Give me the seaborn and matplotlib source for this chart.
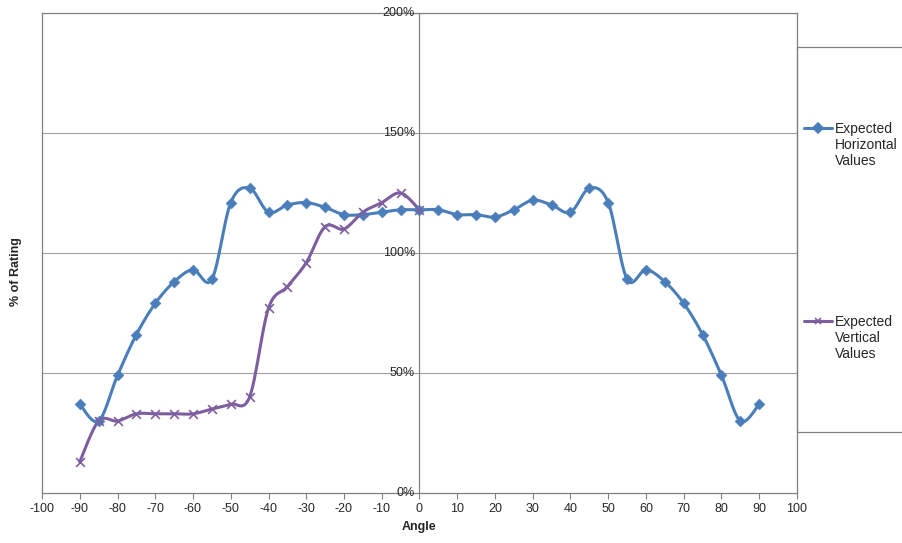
import numpy as np
import pandas as pd
import matplotlib
matplotlib.use("Agg")
import matplotlib.pyplot as plt
import seaborn as sns
from matplotlib.patches import Rectangle

angles_h = [-90, -85, -80, -75, -70, -65, -60, -55, -50, -45, -40, -35, -30, -25, -20, -15, -10, -5,
            0, 5, 10, 15, 20, 25, 30, 35, 40, 45, 50, 55, 60, 65, 70, 75, 80, 85, 90]
horizontal = [37, 30, 49, 66, 79, 88, 93, 89, 121, 127, 117, 120, 121, 119, 116, 116, 117, 118,
              118, 118, 116, 116, 115, 118, 122, 120, 117, 127, 121, 89, 93, 88, 79, 66, 49, 30, 37]
angles_v = [-90, -85, -80, -75, -70, -65, -60, -55, -50, -45, -40, -35, -30, -25, -20, -15, -10, -5, 0]
vertical = [13, 30, 30, 33, 33, 33, 33, 35, 37, 40, 77, 86, 96, 111, 110, 117, 121, 125, 118]

H_COLOR = "#4a7ebb"
V_COLOR = "#7d5fa0"


def smooth(x, y, n=12):
    # Catmull-Rom style smoothing like Excel's smoothed lines
    x = np.asarray(x, float)
    y = np.asarray(y, float)
    px = np.concatenate([[x[0]], x, [x[-1]]])
    py = np.concatenate([[y[0]], y, [y[-1]]])
    xs, ys = [], []
    t = np.linspace(0, 1, n, endpoint=False)
    for i in range(1, len(px) - 2):
        for arr, out in ((px, xs), (py, ys)):
            p0, p1, p2, p3 = arr[i - 1], arr[i], arr[i + 1], arr[i + 2]
            out.extend(0.5 * (2 * p1 + (-p0 + p2) * t + (2 * p0 - 5 * p1 + 4 * p2 - p3) * t ** 2
                              + (-p0 + 3 * p1 - 3 * p2 + p3) * t ** 3))
    xs.append(x[-1])
    ys.append(y[-1])
    return np.array(xs), np.array(ys)


sns.set_style("white")
plt.rcParams["font.family"] = ["Liberation Sans", "DejaVu Sans"]
plt.rcParams["axes.unicode_minus"] = False

fig = plt.figure(figsize=(9.03, 5.43), dpi=100)
ax = fig.add_axes([42 / 903, 1 - 493 / 543, 755 / 903, 480 / 543])

for y in [50, 100, 150, 200]:
    ax.axhline(y, color="#a0a0a0", lw=0.8, zorder=0)

sx, sy = smooth(angles_h, horizontal)
ax.plot(sx, sy, color=H_COLOR, lw=2.2, zorder=2)
sx, sy = smooth(angles_v, vertical)
ax.plot(sx, sy, color=V_COLOR, lw=2.2, zorder=2)

sns.scatterplot(x=angles_h, y=horizontal, marker="D", color=H_COLOR, s=30,
                edgecolor=H_COLOR, ax=ax, zorder=3)
sns.scatterplot(x=angles_v, y=vertical, marker="x", color=V_COLOR, s=40,
                linewidth=1.2, ax=ax, zorder=3)

ax.set_xlim(-100, 100)
ax.set_ylim(0, 200)
ax.set_xticks(range(-100, 101, 10))
ax.set_yticks([])
ax.axvline(0, color="#808080", lw=0.9)
for y in [0, 50, 100, 150, 200]:
    ax.text(-1.2, y, f"{y}%", ha="right", va="center", fontsize=9)
for s in ax.spines.values():
    s.set_color("#808080")
    s.set_linewidth(0.9)
ax.tick_params(axis="x", direction="out", length=4, labelsize=9, color="#808080", bottom=True)
ax.set_xlabel("Angle", fontsize=9, fontweight="bold")
fig.text(16 / 903, 0.5, "% of Rating", rotation=90, ha="center", va="center",
         fontsize=9, fontweight="bold")

# legend box
fig.patches.append(Rectangle((797 / 903, 1 - 432 / 543), 110 / 903, 385 / 543,
                             transform=fig.transFigure, fill=False, edgecolor="#808080", lw=0.9))
for yy, col, mk, lab in [(128, H_COLOR, "D", "Expected\nHorizontal\nValues"),
                         (321, V_COLOR, "x", "Expected\nVertical\nValues")]:
    yf = 1 - yy / 543
    fig.add_artist(plt.Line2D([804 / 903, 832 / 903], [yf, yf], color=col, lw=2.2,
                              transform=fig.transFigure))
    fig.add_artist(plt.Line2D([818 / 903], [yf], marker=mk, color=col, markersize=5,
                              mew=1.2, transform=fig.transFigure))
    fig.text(835 / 903, yf + 6 / 543, lab, ha="left", va="top", fontsize=10)

fig.savefig("out.png", dpi=100)
